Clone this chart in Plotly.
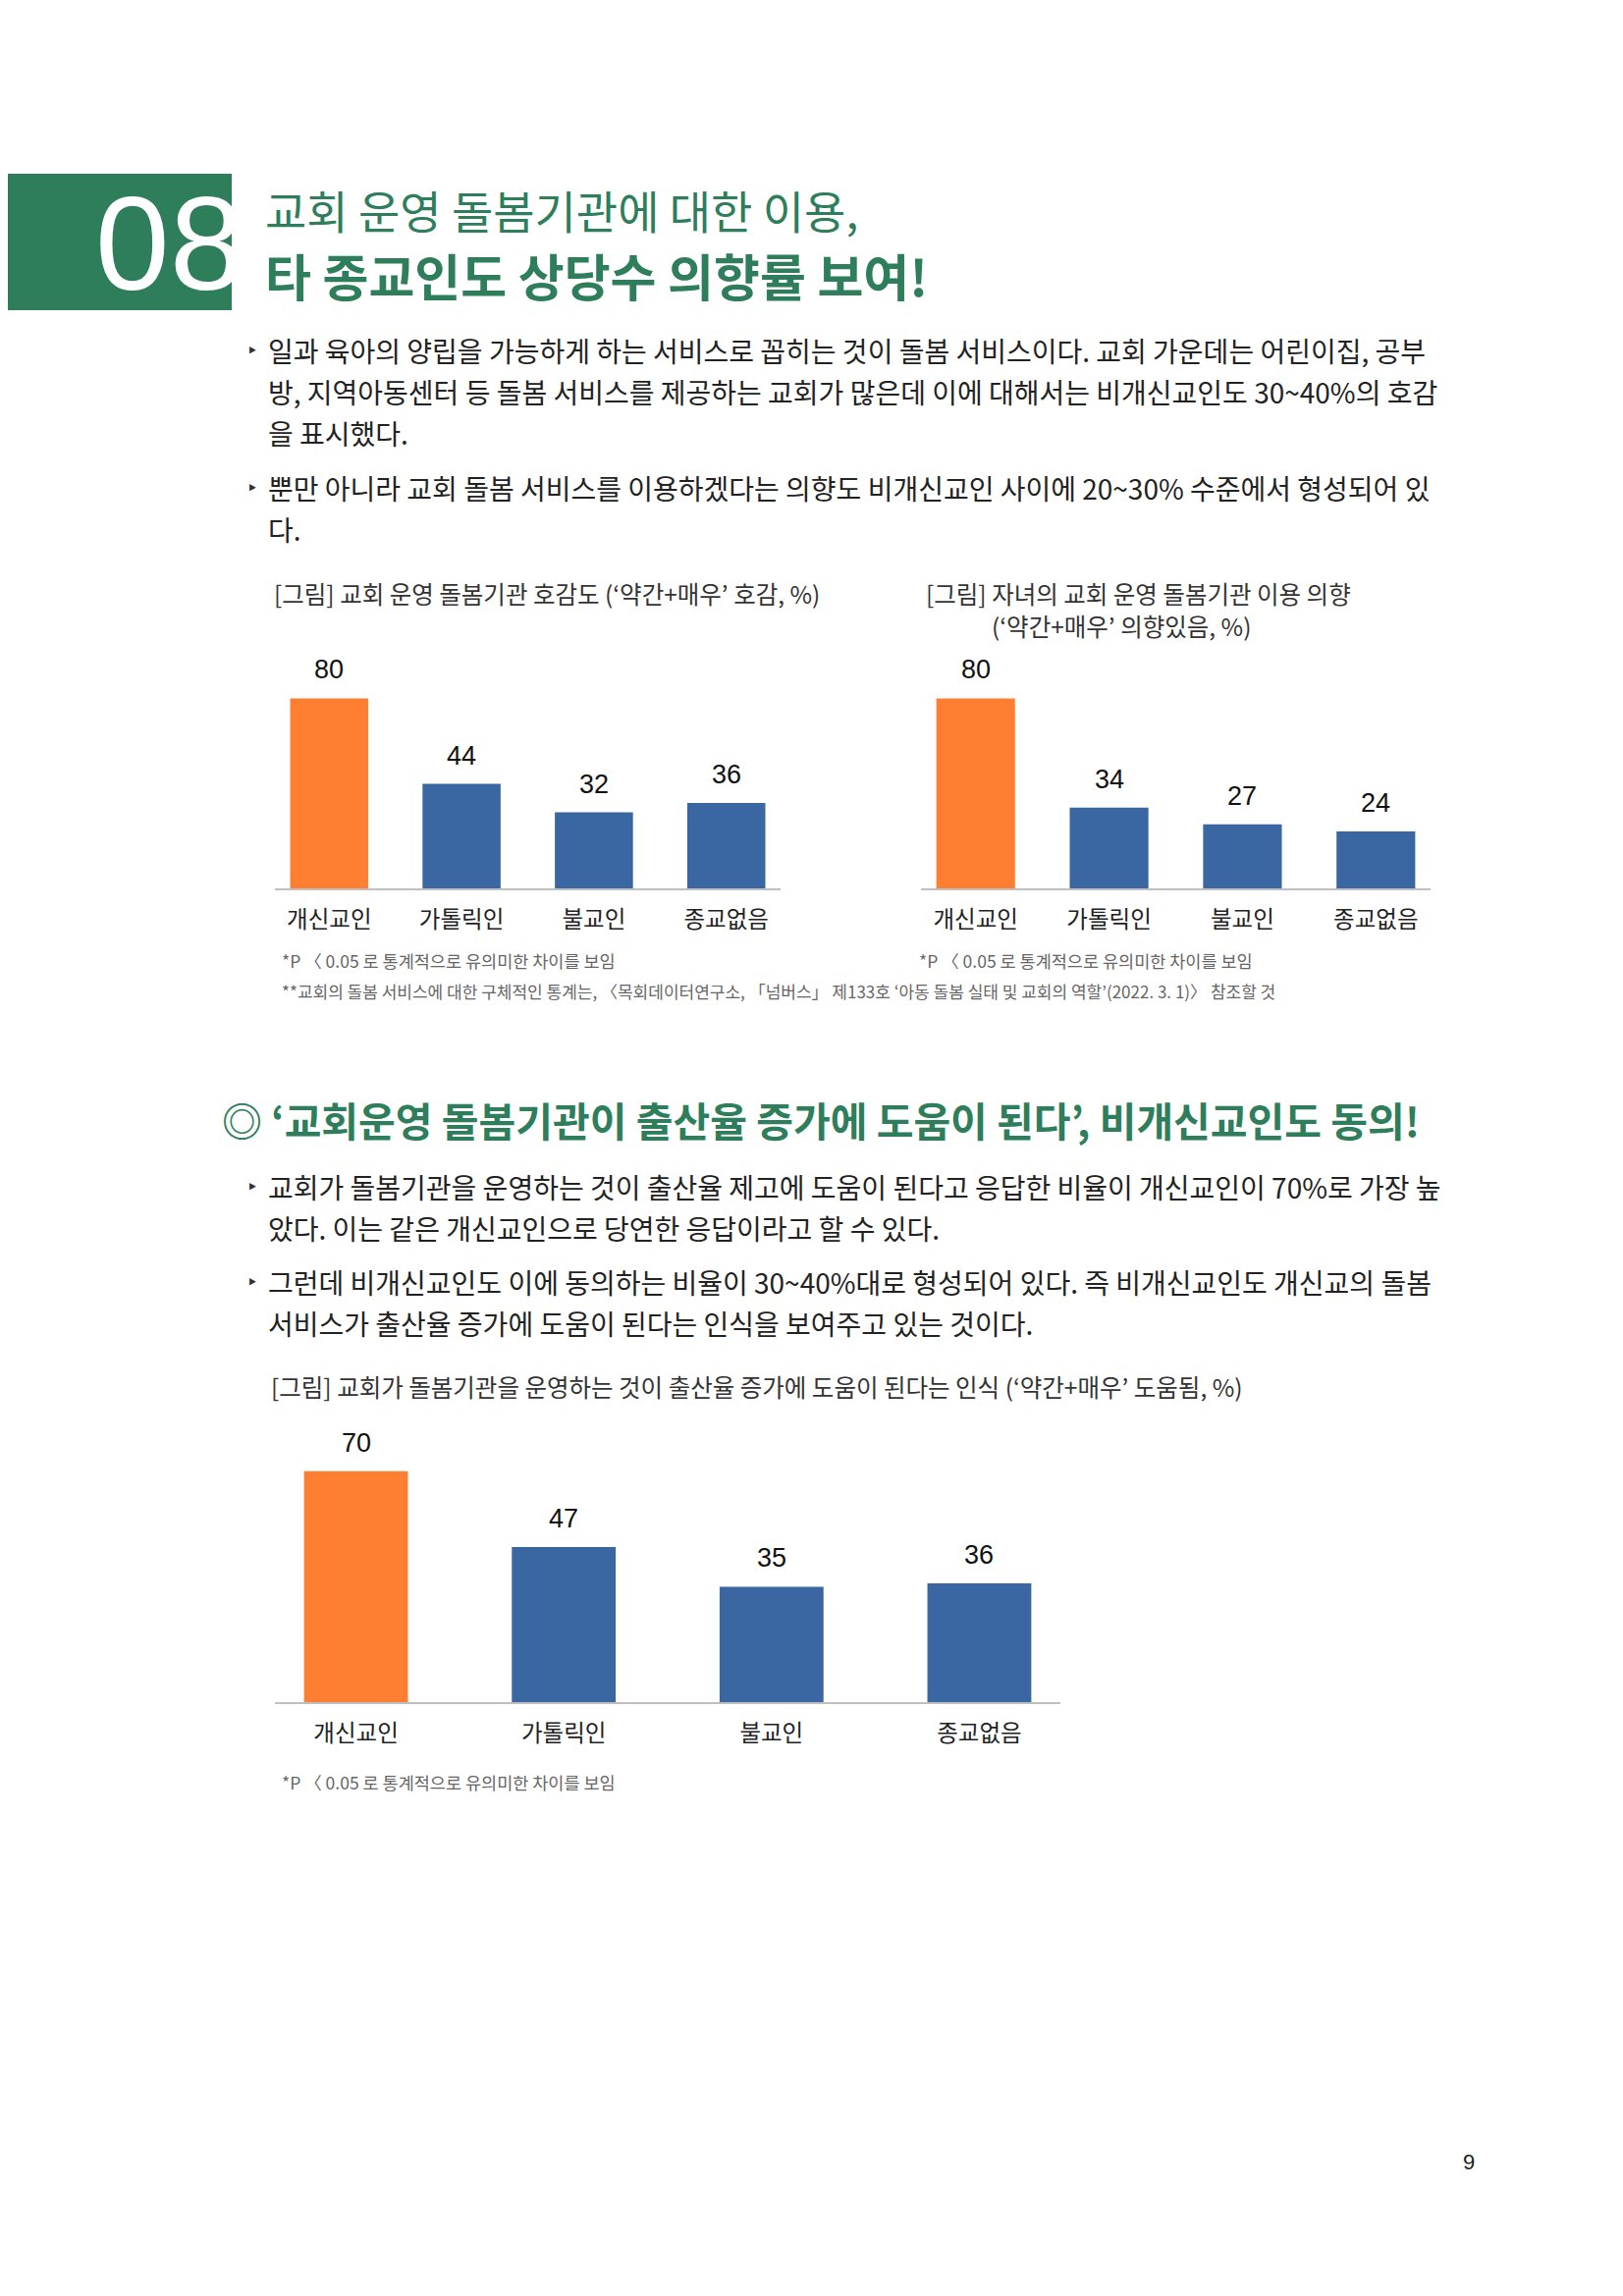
import plotly.graph_objects as go

W, H = 1653, 2339
OFF = 8  # browser body margin compensation
KR = "Noto Sans CJK KR"
GREEN = "#2E7D5B"
ORANGE = "#FF7F32"
BLUE = "#3A66A2"

# ---- data ----
categories = ["개신교인", "가톨릭인", "불교인", "종교없음"]
favor_values = [80, 44, 32, 36]          # 교회 운영 돌봄기관 호감도
intent_values = [80, 34, 27, 24]         # 자녀의 교회 운영 돌봄기관 이용 의향
birth_values = [70, 47, 35, 36]          # 출산율 증가에 도움이 된다는 인식
bar_colors = [ORANGE, BLUE, BLUE, BLUE]

chart_titles = [
    "[그림] 교회 운영 돌봄기관 호감도 (‘약간+매우’ 호감, %)",
    "[그림] 자녀의 교회 운영 돌봄기관 이용 의향",
    "(‘약간+매우’ 의향있음, %)",
    "[그림] 교회가 돌봄기관을 운영하는 것이 출산율 증가에 도움이 된다는 인식 (‘약간+매우’ 도움됨, %)",
]
footnote_sig = "*P 〈 0.05 로 통계적으로 유의미한 차이를 보임"
footnote_ref = "**교회의 돌봄 서비스에 대한 구체적인 통계는, 〈목회데이터연구소, 「넘버스」 제133호 ‘아동 돌봄 실태 및 교회의 역할’(2022. 3. 1)〉 참조할 것"

heading1 = "교회 운영 돌봄기관에 대한 이용,"
heading2 = "타 종교인도 상당수 의향률 보여!"
section_heading = "◎ ‘교회운영 돌봄기관이 출산율 증가에 도움이 된다’, 비개신교인도 동의!"

bullets_top = [
    ["일과 육아의 양립을 가능하게 하는 서비스로 꼽히는 것이 돌봄 서비스이다. 교회 가운데는 어린이집, 공부",
     "방, 지역아동센터 등 돌봄 서비스를 제공하는 교회가 많은데 이에 대해서는 비개신교인도 30~40%의 호감",
     "을 표시했다."],
    ["뿐만 아니라 교회 돌봄 서비스를 이용하겠다는 의향도 비개신교인 사이에 20~30% 수준에서 형성되어 있",
     "다."],
]
bullets_bottom = [
    ["교회가 돌봄기관을 운영하는 것이 출산율 제고에 도움이 된다고 응답한 비율이 개신교인이 70%로 가장 높",
     "았다. 이는 같은 개신교인으로 당연한 응답이라고 할 수 있다."],
    ["그런데 비개신교인도 이에 동의하는 비율이 30~40%대로 형성되어 있다. 즉 비개신교인도 개신교의 돌봄",
     "서비스가 출산율 증가에 도움이 된다는 인식을 보여주고 있는 것이다."],
]
page_number = "9"


def px(x):
    return (x - OFF) / W


def py(y):
    return 1 - (y - OFF) / H


fig = go.Figure()

charts = [
    # (values, x0, x1, baseline, px_per_unit, xrange, bar_width, label_font, cat_font)
    (favor_values, 280, 795, 905, 2.42, [-0.41, 3.41], 0.59, 27, 23.5),
    (intent_values, 938, 1457, 905, 2.42, [-0.41, 3.41], 0.59, 27, 23.5),
    (birth_values, 280, 1080, 1734, 3.36, [-0.39, 3.39], 0.50, 27, 23.5),
]

annotations = []
for i, (vals, x0, x1, base, ppu, xr, bw, lf, cf) in enumerate(charts):
    n = i + 1
    xa = "x" if n == 1 else f"x{n}"
    ya = "y" if n == 1 else f"y{n}"
    ymax = 100
    top = base - ppu * ymax
    fig.add_trace(go.Bar(
        x=list(range(len(categories))), y=vals,
        marker=dict(color=bar_colors, line=dict(width=0)),
        width=bw, xaxis=xa, yaxis=ya, showlegend=False, hoverinfo="skip",
    ))
    xkey = "xaxis" if n == 1 else f"xaxis{n}"
    ykey = "yaxis" if n == 1 else f"yaxis{n}"
    fig.update_layout(**{
        xkey: dict(domain=[px(x0), px(x1)], range=xr, anchor=ya,
                   tickmode="array", tickvals=list(range(len(categories))),
                   ticktext=categories, showline=True, linecolor="#BFBFBF",
                   linewidth=1.5, showgrid=False, zeroline=False, ticks="",
                   tickfont=dict(family=KR, size=cf, color="#222222"),
                   ticklabelstandoff=10, fixedrange=True),
        ykey: dict(domain=[py(base), py(top)], range=[0, ymax], anchor=xa,
                   visible=False, showgrid=False, zeroline=False, fixedrange=True),
    })
    for j, v in enumerate(vals):
        annotations.append(dict(
            x=j, y=v, xref=xa, yref=ya, text=str(v), showarrow=False,
            yanchor="bottom", yshift=12,
            font=dict(family="Liberation Sans", size=lf, color="#111111"),
        ))


def text(x, y, s, size, color="#222222", family=KR, bold=False, xanchor="left"):
    annotations.append(dict(
        x=px(x), y=py(y), xref="paper", yref="paper", text=(f"<b>{s}</b>" if bold else s),
        showarrow=False, xanchor=xanchor, yanchor="middle",
        font=dict(family=family, size=size, color=color),
    ))


# header
text(172, 248, "08", 136, color="white", family="Liberation Sans Narrow, Liberation Sans", xanchor="center")
text(268, 213, heading1, 46, color=GREEN)
text(268, 280, heading2, 51, color=GREEN, bold=True)


def bullets(groups, y_start_list):
    for lines, y0 in zip(groups, y_start_list):
        text(249, y0, "‣", 20, color="#333333", family="DejaVu Sans")
        for k, line in enumerate(lines):
            text(271, y0 + 42 * k, line, 28, color="#222222")


bullets(bullets_top, [357, 497])

# chart titles
text(277, 605, chart_titles[0], 24.5, color="#333333")
text(941, 605, chart_titles[1], 24.5, color="#333333")
text(1008, 638, chart_titles[2], 24.5, color="#333333")
text(285, 978, footnote_sig, 17.5, color="#666666")
text(934, 978, footnote_sig, 17.5, color="#666666")
text(285, 1010, footnote_ref, 17, color="#666666")

text(224, 1140, section_heading, 41, color=GREEN, bold=True)
bullets(bullets_bottom, [1209, 1306])

text(274, 1412, chart_titles[3], 24.5, color="#333333")
text(285, 1815, footnote_sig, 17.5, color="#666666")

text(1496, 2202, page_number, 22, color="#222222", family="Liberation Sans", xanchor="center")

fig.update_layout(
    width=W, height=H, margin=dict(l=0, r=0, t=0, b=0),
    paper_bgcolor="white", plot_bgcolor="white",
    annotations=annotations,
    shapes=[dict(type="rect", xref="paper", yref="paper",
                 x0=px(0), x1=px(236), y0=py(177), y1=py(316),
                 fillcolor=GREEN, line=dict(width=0), layer="below")],
    bargap=0.4,
)

fig.write_html("out.html")
